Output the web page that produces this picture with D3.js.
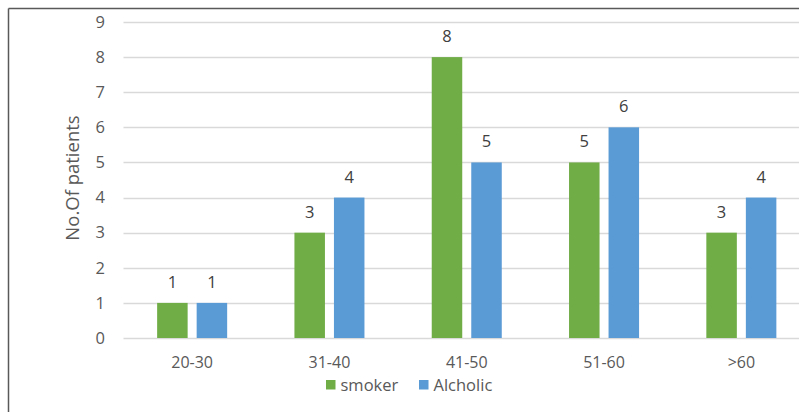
<!DOCTYPE html>
<html>
<head>
<meta charset="utf-8">
<script src="https://cdn.jsdelivr.net/npm/d3@7"></script>
<style>
  html, body { margin: 0; padding: 0; background: #fff; }
  svg { display: block; font-family: "Open Sans", Lato, sans-serif; }
</style>
</head>
<body>
<svg id="chart" width="799" height="412"></svg>
<script>
// Age groups and patient counts per group
const categories = ["20-30", "31-40", "41-50", "51-60", ">60"];
const seriesNames = ["smoker", "Alcholic"];
const smoker = [1, 3, 8, 5, 3];
const alcholic = [1, 4, 5, 6, 4];
const yTicks = [0, 1, 2, 3, 4, 5, 6, 7, 8, 9];
const colors = { smoker: "#70AD47", Alcholic: "#5B9BD5" };

const seriesValues = { smoker: smoker, Alcholic: alcholic };
const rows = categories.map((c, i) => ({
  cat: c,
  values: seriesNames.map(s => ({ key: s, value: seriesValues[s][i] }))
}));

const svg = d3.select("#chart");
const W = 799, H = 412;
const FONT = "'Open Sans', Lato, sans-serif";

// Outer frame
svg.append("line").attr("x1", 8.5).attr("x2", W).attr("y1", 8.5).attr("y2", 8.5)
  .attr("stroke", "#595959").attr("stroke-width", 1.5);
svg.append("line").attr("x1", 8.5).attr("x2", 8.5).attr("y1", 8.5).attr("y2", H)
  .attr("stroke", "#595959").attr("stroke-width", 1.5);

const plot = { left: 123.5, right: 810, top: 22, bottom: 338 };

const y = d3.scaleLinear().domain([0, 9]).range([plot.bottom, plot.top]);
const x0 = d3.scaleBand().domain(categories).range([plot.left, plot.right])
  .paddingInner(0.49).paddingOuter(0.245);
const x1 = d3.scaleBand().domain(seriesNames).range([0, x0.bandwidth()])
  .paddingInner(0.228).paddingOuter(0);

// Horizontal gridlines
svg.append("g").selectAll("line").data(yTicks).join("line")
  .attr("x1", plot.left).attr("x2", plot.right)
  .attr("y1", d => Math.round(y(d)) + 0.5).attr("y2", d => Math.round(y(d)) + 0.5)
  .attr("stroke", "#D9D9D9").attr("stroke-width", 1.3);

// Y axis tick labels
const yAxis = d3.axisLeft(y).tickValues(yTicks).tickSize(0).tickPadding(0);
const gy = svg.append("g").attr("transform", `translate(${plot.left - 18.5},0)`).call(yAxis);
gy.select(".domain").remove();
gy.selectAll("text").attr("fill", "#595959").style("font-size", "16.5px")
  .style("font-family", FONT);

// X axis category labels
const xAxis = d3.axisBottom(x0).tickSize(0).tickPadding(0);
const gx = svg.append("g").attr("transform", `translate(0,${plot.bottom + 19})`).call(xAxis);
gx.select(".domain").remove();
gx.selectAll("text").attr("fill", "#595959").style("font-size", "16px")
  .style("font-family", FONT);

// Bars
const groups = svg.append("g").selectAll("g").data(rows).join("g")
  .attr("transform", d => `translate(${x0(d.cat)},0)`);

groups.selectAll("rect").data(d => d.values).join("rect")
  .attr("x", d => x1(d.key))
  .attr("width", x1.bandwidth())
  .attr("y", d => y(d.value))
  .attr("height", d => y(0) - y(d.value))
  .attr("fill", d => colors[d.key]);

// Value labels
groups.selectAll("text.val").data(d => d.values).join("text")
  .attr("class", "val")
  .attr("x", d => x1(d.key) + x1.bandwidth() / 2)
  .attr("y", d => y(d.value) - 15)
  .attr("text-anchor", "middle")
  .attr("fill", "#404040")
  .style("font-size", "16.5px")
  .text(d => d.value);

// Y axis title
svg.append("text")
  .attr("transform", `translate(79,178) rotate(-90)`)
  .attr("text-anchor", "middle")
  .attr("fill", "#595959")
  .style("font-size", "18.5px")
  .text("No.Of patients");

// Legend
const legend = svg.append("g").attr("transform", "translate(326,380)");
const legendX = [0, 93];
seriesNames.forEach((s, i) => {
  const g = legend.append("g").attr("transform", `translate(${legendX[i]},0)`);
  g.append("rect").attr("width", 9.5).attr("height", 9.5).attr("fill", colors[s]);
  g.append("text").attr("x", 14.5).attr("y", 11)
    .attr("fill", "#595959").style("font-size", "16.5px").text(s);
});
</script>
</body>
</html>
